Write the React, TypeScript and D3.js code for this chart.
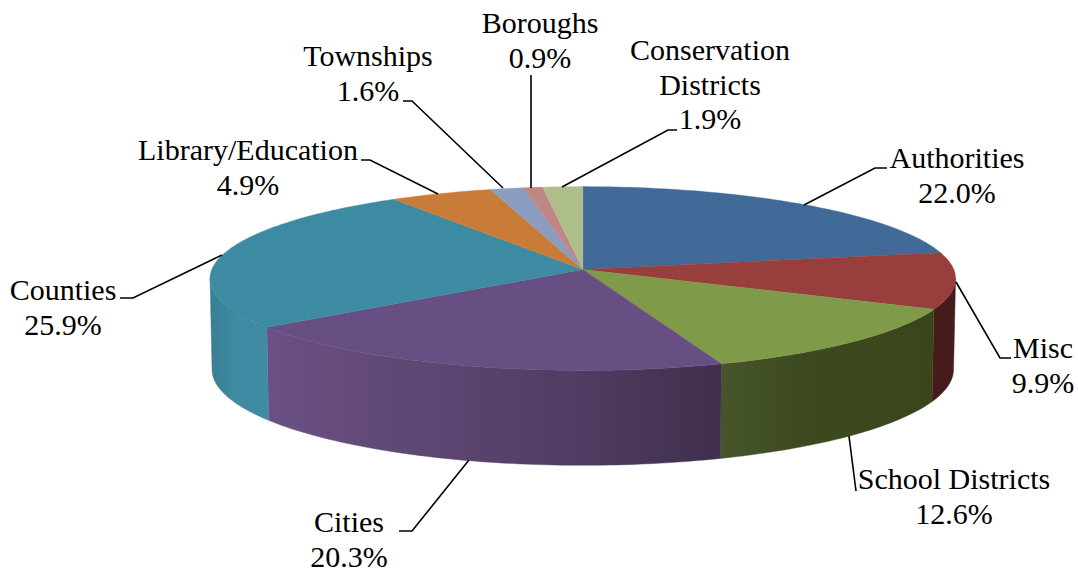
import React from "react";
import * as d3 from "d3";

// Municipal categories, clockwise from twelve o'clock
const categories = ["Authorities", "Misc", "School Districts", "Cities", "Counties", "Library/Education", "Townships", "Boroughs", "Conservation Districts"];
const shares = [22.0, 9.9, 12.6, 20.3, 25.9, 4.9, 1.6, 0.9, 1.9];
const faceColors = ["#416a99", "#983f3d", "#7f9a48", "#684f83", "#3d8aa3", "#c97c38", "#8a9dc0", "#c08684", "#adbe8a"];

// Wall shading per slice: [x, colour] stops along the horizontal axis
const wallStops: Record<string, [number, string][]> = {
  Misc: [[930, "#451c1a"], [956, "#451c1a"]],
  "School Districts": [[720, "#47552a"], [800, "#3d4a20"], [932, "#3a451c"]],
  Cities: [[269, "#6a5084"], [447, "#5c4570"], [580, "#4f3c62"], [720, "#402f4e"]],
  Counties: [[210, "#3a7e95"], [235, "#3e8ba3"], [270, "#3e8ba3"]],
};

// Label text lines, with the centre x and first baseline of each block
const labelLines = [
  ["Authorities", "22.0%"],
  ["Misc", "9.9%"],
  ["School Districts", "12.6%"],
  ["Cities", "20.3%"],
  ["Counties", "25.9%"],
  ["Library/Education", "4.9%"],
  ["Townships", "1.6%"],
  ["Boroughs", "0.9%"],
  ["Conservation", "Districts", "1.9%"],
];
const labelAnchors = [
  [957, 168], [1043, 358], [954, 489], [349, 532], [63, 300],
  [248, 160], [368, 66], [540, 33], [710, 60],
];
const leaders = [
  [[804, 205], [875, 168], [887, 168]],
  [[956, 282], [1000, 358], [1011, 358]],
  [[849, 436], [856, 491]],
  [[469, 460], [412, 531], [399, 531]],
  [[222, 255], [133, 298], [120, 298]],
  [[438, 194], [370, 160], [361, 160]],
  [[503, 188], [412, 101], [403, 101]],
  [[531, 188], [531, 75]],
  [[562, 187], [668, 130], [677, 130]],
];

const W = 1078;
const H = 569;

// Perspective projection of the pie's rim; "dip" foreshortens the far side
const dip = 0.098;
const rim = (cx: number, cy: number, a: number, b: number) => (t: number): [number, number] => {
  const w = 1 + dip * Math.cos(t);
  return [cx + (a * Math.sin(t)) / w, cy - (b * Math.cos(t)) / w];
};
const topRim = rim(582.8, 269.5, 371, 91);
const baseRim = rim(582.8, 360, 369, 95);

// The wall is only visible between the rim's two horizontal extremes
const wallFrom = Math.acos(-dip);
const wallTo = 2 * Math.PI - wallFrom;

const arcAngles = (start: number, end: number) => {
  const n = Math.max(2, Math.ceil((end - start) / 0.02));
  return d3.range(n + 1).map((i) => start + ((end - start) * i) / n);
};

const pie = d3.pie<number>().sort(null).startAngle(0).endAngle(2 * Math.PI);
const poly = d3.line<[number, number]>();

export default function App() {
  const slices = pie(shares);
  const walls = slices
    .map((s, i) => ({ s, name: categories[i] }))
    .filter((d) => wallStops[d.name]);

  return (
    <svg width={W} height={H} style={{ position: "absolute", left: 0, top: 0, background: "#fff" }}>
      <defs>
        {Object.entries(wallStops).map(([name, stops]) => {
          const x0 = stops[0][0];
          const x1 = stops[stops.length - 1][0];
          return (
            <linearGradient key={name} id={`wall-${categories.indexOf(name)}`} gradientUnits="userSpaceOnUse" x1={x0} x2={x1} y1={0} y2={0}>
              {stops.map(([x, c]) => (
                <stop key={x} offset={(x - x0) / (x1 - x0)} stopColor={c} />
              ))}
            </linearGradient>
          );
        })}
      </defs>

      {walls.map(({ s, name }) => {
        const angles = arcAngles(Math.max(s.startAngle, wallFrom), Math.min(s.endAngle, wallTo));
        const outline = [...angles.map(topRim), ...angles.slice().reverse().map(baseRim)];
        const paint = `url(#wall-${categories.indexOf(name)})`;
        return <path key={name} d={poly(outline) + "Z"} fill={paint} stroke={paint} strokeWidth={0.4} />;
      })}

      {slices.map((s, i) => {
        const outline: [number, number][] = [[582.8, 269.5], ...arcAngles(s.startAngle, s.endAngle).map(topRim)];
        return <path key={categories[i]} d={poly(outline) + "Z"} fill={faceColors[i]} stroke={faceColors[i]} strokeWidth={0.4} />;
      })}

      {leaders.map((pts, i) => (
        <path key={i} d={poly(pts as [number, number][]) ?? ""} fill="none" stroke="#000" strokeWidth={1.6} />
      ))}

      <g fontFamily="'Liberation Serif', serif" fontSize={30} fill="#000" textAnchor="middle">
        {labelLines.map((lines, i) => (
          <text key={i} x={labelAnchors[i][0]} y={labelAnchors[i][1]}>
            {lines.map((line, j) => (
              <tspan key={j} x={labelAnchors[i][0]} dy={j === 0 ? 0 : 34.5}>{line}</tspan>
            ))}
          </text>
        ))}
      </g>
    </svg>
  );
}
